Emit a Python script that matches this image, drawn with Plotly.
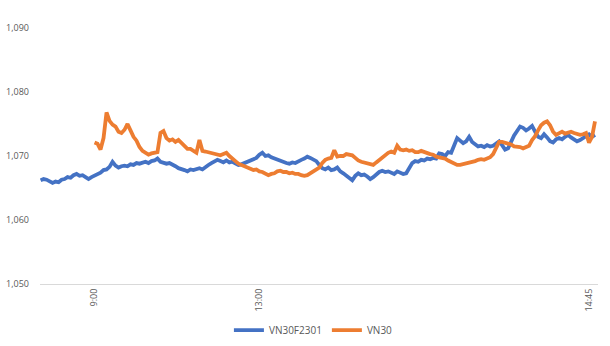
import plotly.graph_objects as go

# Intraday prices, one sample per observation step
vn30f2301 = [
    1066.2, 1066.4, 1066.3, 1066.0, 1065.8, 1066.0, 1065.9, 1066.3, 1066.4, 1066.7,
    1066.6, 1067.0, 1067.2, 1066.9, 1067.0, 1066.7, 1066.4, 1066.7, 1066.9, 1067.2,
    1067.4, 1067.8, 1067.9, 1068.3, 1069.1, 1068.5, 1068.2, 1068.4, 1068.5, 1068.4,
    1068.7, 1068.6, 1068.9, 1068.8, 1069.0, 1069.1, 1068.9, 1069.2, 1069.3, 1069.6,
    1069.1, 1069.0, 1068.8, 1068.9, 1068.7, 1068.4, 1068.1, 1068.0, 1067.8, 1067.6,
    1067.9, 1067.8, 1068.0, 1068.1, 1067.9, 1068.3, 1068.6, 1068.9, 1069.2, 1069.4,
    1069.2, 1069.0, 1069.3, 1069.0, 1069.1, 1068.8, 1068.6, 1068.7, 1068.9, 1069.1,
    1069.3, 1069.4, 1069.7, 1070.2, 1070.5, 1070.0, 1070.1, 1069.8, 1069.6, 1069.4,
    1069.2, 1069.0, 1068.9, 1068.8, 1069.0, 1068.9, 1069.2, 1069.4, 1069.6, 1069.9,
    1069.7, 1069.5, 1069.2, 1068.6, 1068.1, 1067.9, 1068.2, 1067.8, 1067.9, 1068.2,
    1067.6, 1067.3, 1066.9, 1066.5, 1066.2, 1066.9, 1067.3, 1067.0, 1067.1, 1066.8,
    1066.4, 1066.7, 1067.2, 1067.5, 1067.7, 1067.5, 1067.6, 1067.4, 1067.2, 1067.6,
    1067.4, 1067.2, 1067.3, 1068.0, 1068.9, 1069.2, 1069.1, 1069.4, 1069.3, 1069.6,
    1069.5, 1069.7, 1069.6, 1070.4, 1070.3, 1070.0, 1070.6, 1070.5, 1071.8, 1072.8,
    1072.4, 1072.0, 1072.3, 1073.0, 1072.2, 1071.8, 1071.5, 1071.6, 1071.4, 1071.7,
    1071.5, 1071.6, 1071.9, 1072.3, 1071.7, 1071.0, 1071.2, 1072.3, 1073.2, 1073.9,
    1074.6, 1074.4, 1074.0, 1074.3, 1074.7, 1073.8, 1073.0, 1072.8, 1073.4, 1072.9,
    1072.3, 1072.1, 1072.6, 1072.8, 1072.6, 1073.0, 1073.3, 1072.9, 1072.6, 1072.3,
    1072.5, 1072.8, 1073.2, 1073.4, 1073.0, 1073.3,
]

# The underlying index only trades from the 9:00 open (step 18 onward)
vn30_start = 18
vn30 = [
    1072.1, 1071.9, 1071.0, 1072.8, 1076.8, 1075.5, 1074.9, 1074.6, 1073.8, 1073.6,
    1074.1, 1075.0, 1074.0, 1073.0, 1072.4, 1071.4, 1070.8, 1070.5, 1070.2, 1070.4,
    1070.5, 1070.6, 1073.6, 1073.9, 1072.8, 1072.4, 1072.6, 1072.2, 1072.5, 1072.0,
    1071.5, 1071.1, 1071.1, 1070.8, 1070.5, 1072.5, 1070.8, 1070.7, 1070.6, 1070.5,
    1070.4, 1070.2, 1070.1, 1070.3, 1070.5, 1070.0, 1069.5, 1069.2, 1068.8, 1068.6,
    1068.4, 1068.2, 1067.9, 1067.8, 1067.9, 1067.6, 1067.5, 1067.3, 1067.0, 1067.2,
    1067.3, 1067.6, 1067.7, 1067.5, 1067.5, 1067.3, 1067.4, 1067.2, 1067.2, 1067.0,
    1066.9, 1067.0, 1067.3, 1067.6, 1067.9, 1068.2, 1068.9, 1069.4, 1069.6, 1069.7,
    1070.9, 1069.9, 1070.0, 1070.0, 1070.3, 1070.2, 1070.1, 1069.7, 1069.3, 1069.1,
    1069.0, 1068.9, 1068.7, 1068.6, 1069.0, 1069.4, 1069.7, 1070.2, 1070.5, 1070.7,
    1070.5, 1071.6, 1071.0, 1070.9, 1071.0, 1070.8, 1070.9, 1070.6, 1070.6, 1070.8,
    1070.6, 1070.5, 1070.3, 1070.2, 1069.9, 1069.8, 1069.7, 1069.6, 1069.3, 1069.1,
    1068.8, 1068.6, 1068.6, 1068.7, 1068.8, 1069.0, 1069.1, 1069.2, 1069.4, 1069.5,
    1069.4, 1069.6, 1069.8, 1070.3, 1071.3, 1072.2, 1072.2, 1072.1, 1071.9, 1071.8,
    1071.5, 1071.5, 1071.4, 1071.2, 1071.4, 1071.6, 1072.5, 1073.1, 1074.0, 1074.8,
    1075.2, 1075.4, 1074.8, 1073.8, 1073.3, 1073.6, 1073.8, 1073.5, 1073.6, 1073.8,
    1073.6, 1073.5, 1073.3, 1073.4, 1073.6, 1072.1, 1073.0, 1075.4,
]

# Category labels shown on the time axis
tick_steps = [18, 73, 183]
tick_labels = ["9:00", "13:00", "14:45"]

y_ticks = [1050, 1060, 1070, 1080, 1090]

steps = list(range(len(vn30f2301)))
vn30_steps = list(range(vn30_start, vn30_start + len(vn30)))

BLUE = "#4472C4"
ORANGE = "#ED7D31"
TEXT = "#595959"

fig = go.Figure()
fig.add_trace(go.Scatter(
    x=steps, y=vn30f2301, mode="lines", name="VN30F2301",
    line=dict(color=BLUE, width=3.8),
))
fig.add_trace(go.Scatter(
    x=vn30_steps, y=vn30, mode="lines", name="VN30",
    line=dict(color=ORANGE, width=3.8),
))

fig.update_layout(
    width=610, height=346,
    margin=dict(l=40, r=12, t=28, b=62, autoexpand=False),
    paper_bgcolor="white", plot_bgcolor="white",
    font=dict(family="Open Sans, Liberation Sans, sans-serif", size=10, color=TEXT),
    showlegend=True,
    legend=dict(
        orientation="h", x=0.49, xanchor="center", y=-0.18, yanchor="middle",
        font=dict(size=10, color=TEXT), itemwidth=30,
    ),
    xaxis=dict(
        range=[-0.2, len(vn30f2301)],
        tickmode="array", tickvals=tick_steps, ticktext=tick_labels,
        tickangle=-90, showgrid=False, zeroline=False,
        showline=True, linecolor="#D9D9D9", linewidth=1,
        ticks="", ticklen=0, tickfont=dict(size=9), automargin=False,
    ),
    yaxis=dict(
        range=[1050, 1090], tickmode="array", tickvals=y_ticks,
        tickformat=",", showgrid=False, zeroline=False,
        showline=False, ticks="", ticklabelstandoff=10, tickfont=dict(size=9),
        automargin=False,
    ),
)

fig.write_html("out.html")
